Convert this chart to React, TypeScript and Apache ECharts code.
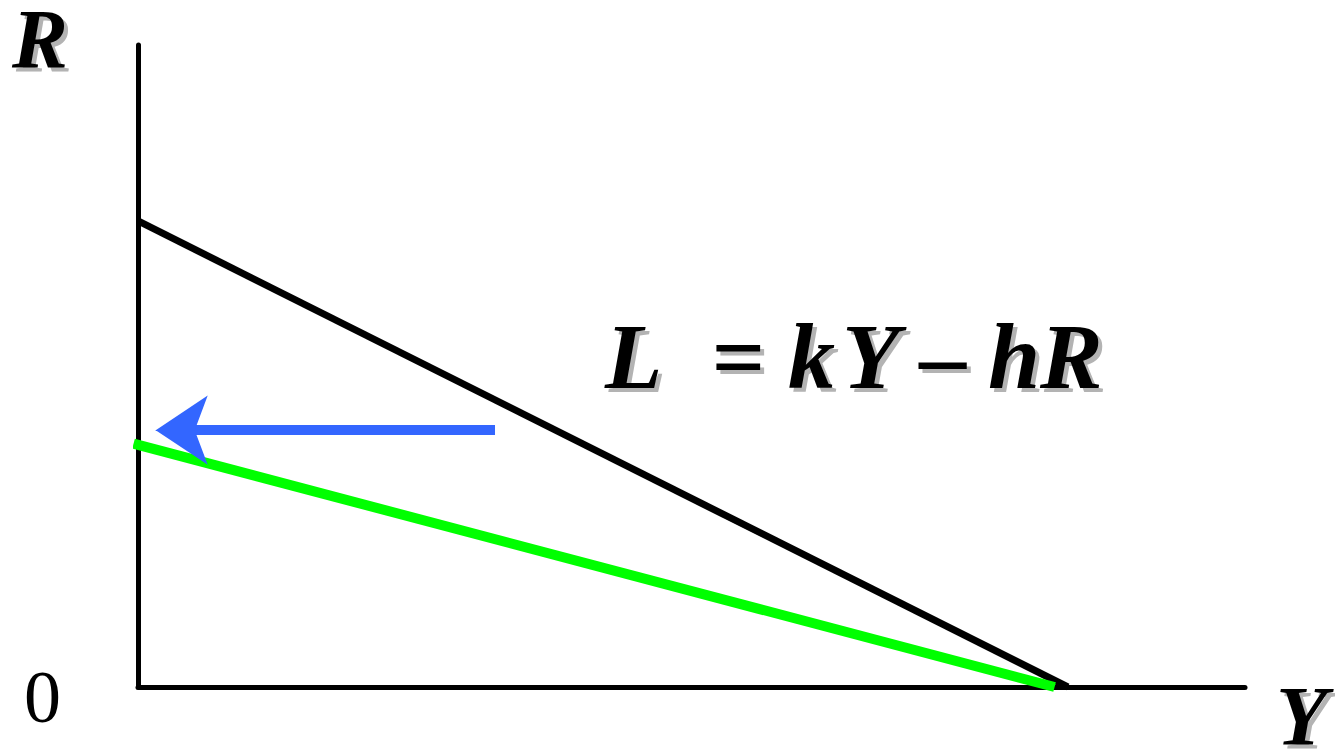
import React, { useEffect, useRef } from "react";
import * as echarts from "echarts";

// Curves (unitless: x 0..100, y 0..100)
const lmCurveOld: [number, number][] = [[0, 72.6], [84.0, 0]];
const lmCurveNew: [number, number][] = [[-0.4, 37.9], [82.8, 0]];
const arrowShaft: [number, number][] = [[32.25, 40.0], [4.6, 40.0]];
const arrowHead: [number, number][] = [[6.0, 40.0], [1.6, 40.0]];

const equationParts = ["L", "=", "k", "Y", "\u2013", "h", "R"];
const eqX = [605, 711, 788, 842, 920, 988, 1040];
const yAxisName = "R";
const xAxisName = "Y";
const originLabel = "0";

const SERIF = '"Liberation Serif", "Times New Roman", serif';

function shadowText(text: string, x: number, y: number, size: number) {
  const base = {
    fontFamily: SERIF,
    fontSize: size,
    fontWeight: "bold",
    fontStyle: "italic",
    textAlign: "left",
    textVerticalAlign: "bottom",
    text,
  };
  return [
    { type: "text", x: x + 4, y: y + 4, z: 10, silent: true, style: { ...base, fill: "#b3b3b3" } },
    { type: "text", x, y, z: 11, style: { ...base, fill: "#000" } },
  ];
}

export default function App() {
  const ref = useRef<HTMLDivElement>(null);
  useEffect(() => {
    if (!ref.current) return;
    const chart = echarts.init(ref.current, null, { renderer: "svg" });
    chart.setOption({
      animation: false,
      backgroundColor: "#fff",
      grid: { left: 138, right: 90, top: 45, bottom: 62, containLabel: false },
      xAxis: {
        type: "value",
        min: 0,
        max: 100,
        axisLine: { show: true, onZero: false, lineStyle: { color: "#000", width: 5 } },
        axisTick: { show: false },
        axisLabel: { show: false },
        splitLine: { show: false },
      },
      yAxis: {
        type: "value",
        min: 0,
        max: 100,
        axisLine: { show: true, onZero: false, lineStyle: { color: "#000", width: 5 } },
        axisTick: { show: false },
        axisLabel: { show: false },
        splitLine: { show: false },
      },
      series: [
        {
          type: "line",
          data: lmCurveOld,
          showSymbol: false,
          symbol: "none",
          clip: false,
          lineStyle: { color: "#000", width: 7 },
          z: 3,
        },
        {
          type: "line",
          data: lmCurveNew,
          showSymbol: false,
          symbol: "none",
          clip: false,
          lineStyle: { color: "#00ff00", width: 10 },
          z: 4,
        },
        {
          type: "lines",
          coordinateSystem: "cartesian2d",
          data: [{ coords: arrowShaft }],
          symbol: ["none", "none"],
          lineStyle: { color: "#3366ff", width: 10, opacity: 1, curveness: 0 },
          z: 5,
        },
        {
          type: "lines",
          coordinateSystem: "cartesian2d",
          data: [{ coords: arrowHead }],
          symbol: ["none", "arrow"],
          symbolSize: [54, 52],
          lineStyle: { color: "#3366ff", width: 1, opacity: 1, curveness: 0 },
          itemStyle: { color: "#3366ff" },
          z: 6,
        },
      ],
      graphic: [
        ...shadowText(yAxisName, 12, 81, 84),
        ...shadowText(xAxisName, 1276, 758, 84),
        ...equationParts.flatMap((p, i) => shadowText(p, eqX[i], 403, 94)),
        {
          type: "text",
          x: 24,
          y: 734,
          style: {
            text: originLabel,
            fontFamily: SERIF,
            fontSize: 74,
            fill: "#000",
            textAlign: "left",
            textVerticalAlign: "bottom",
          },
        },
      ],
    });
    return () => chart.dispose();
  }, []);
  return (
    <div
      ref={ref}
      style={{ position: "fixed", left: 0, top: 0, width: 1335, height: 749 }}
    />
  );
}
